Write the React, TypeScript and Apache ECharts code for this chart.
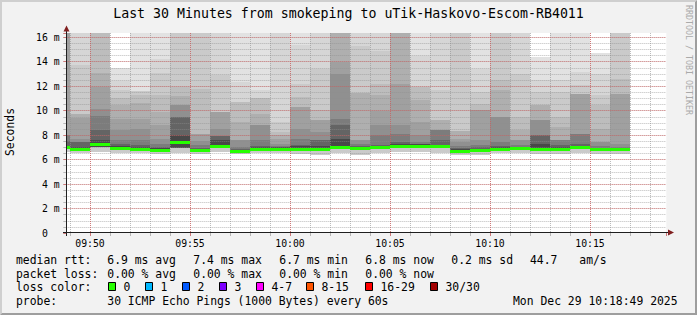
import { useEffect, useRef } from 'react';
import * as echarts from 'echarts';

// ---------------- data ----------------
// one smoke column per minute (column start time)
const categories = ['09:48','09:49','09:50','09:51','09:52','09:53','09:54','09:55','09:56','09:57','09:58','09:59','10:00','10:01','10:02','10:03','10:04','10:05','10:06','10:07','10:08','10:09','10:10','10:11','10:12','10:13','10:14','10:15','10:16'];

// upper edge (ms) of each smoke shade, lightest (level1) to darkest (level10)
const level1 = [16.4,16.4,16.4,13.52,16.4,16.4,16.4,16.4,16.4,16.4,16.4,16.4,16.4,16.4,16.4,16.4,16.4,16.4,16.4,16.4,16.4,16.4,16.4,16.4,14.4,16.4,16.4,14.7,16.4];
const level2 = [16.4,16.4,16.4,12.45,11.6,14.26,16.4,16.4,16.4,12.36,11.67,16.4,15.4,16.4,16.4,16.4,16.4,16.4,14.5,16.4,16.4,13.44,16.4,16.4,12.49,12.49,13.17,13.0,16.4];
const level3 = [16.4,13.7,16.4,11.7,11.6,13.1,16.4,16.4,12.95,10.73,11.0,9.06,12.2,13.44,16.4,15.3,14.9,16.4,11.96,11.67,16.4,11.53,16.4,13.0,11.53,11.53,12.08,11.3,16.4];
const level4 = [16.4,9.7,16.4,11.0,11.3,11.3,11.96,11.8,9.9,10.73,11.0,8.26,11.1,10.03,16.4,11.44,12.2,16.4,11.96,9.22,8.3,10.58,12.49,9.49,10.44,9.49,11.39,10.5,12.62];
const level5 = [16.4,9.7,13.05,10.5,10.6,9.9,11.2,8.1,9.9,9.1,9.76,8.0,10.3,9.22,16.4,11.44,11.3,16.4,10.85,9.22,8.3,10.03,11.67,8.4,10.44,8.67,11.39,8.5,11.39];
const level6 = [16.4,9.4,11.96,9.35,9.35,8.8,10.5,8.1,9.9,7.58,8.8,7.71,10.3,9.22,14.0,7.58,10.0,12.2,9.06,8.4,7.7,10.03,9.49,7.58,9.22,7.58,11.39,7.4,11.39];
const level7 = [8.0,7.7,10.17,8.4,8.5,7.7,10.5,7.5,8.5,7.58,8.8,7.3,8.5,8.26,13.03,7.58,8.8,8.8,7.99,8.4,7.4,7.58,9.49,7.58,9.22,7.58,8.12,7.4,7.31];
const level8 = [8.0,7.4,9.57,7.58,7.6,7.3,9.49,7.2,7.9,7.0,7.58,7.1,7.7,7.58,9.3,7.3,7.99,8.1,7.44,8.4,7.1,7.2,7.44,7.17,7.99,7.58,8.12,7.1,7.03];
const level9 = [7.5,7.4,8.4,7.3,7.17,7.05,9.49,6.95,7.9,6.85,7.1,7.05,7.17,7.58,8.8,7.1,7.2,7.4,7.3,7.58,6.95,7.0,7.1,7.05,7.99,7.17,7.31,6.95,6.95];
const level10 = [7.15,7.0,7.58,7.1,7.0,6.95,7.99,6.9,7.58,6.8,7.05,7.0,7.1,7.1,7.7,7.0,7.1,7.3,7.25,7.2,6.85,6.9,7.0,7.0,7.31,7.05,7.15,6.9,6.9];

// lower edges (ms): outer shades start at minRtt, inner shades at innerLow
const minRtt = [6.6,6.5,6.6,6.55,6.5,6.45,6.5,6.49,6.6,6.43,6.5,6.5,6.45,6.35,6.5,6.4,6.55,6.6,6.6,6.55,6.35,6.4,6.5,6.5,6.45,6.45,6.55,6.45,6.45];
const innerLow = [6.85,6.75,7.05,6.8,6.7,6.65,6.98,6.7,6.95,6.6,6.7,6.75,6.7,6.75,6.85,6.75,6.9,7.0,7.0,6.95,6.6,6.62,6.75,6.8,6.75,6.75,6.9,6.7,6.7];
// median rtt (ms), 0 packet loss everywhere
const medianRtt = [7.0,6.86,7.2,6.92,6.8,6.76,7.36,6.78,7.08,6.7,6.82,6.85,6.8,6.86,6.95,6.87,7.0,7.1,7.1,7.08,6.7,6.72,6.85,6.9,6.86,6.85,7.0,6.8,6.8];

const axisStart = '09:48:49';
const axisEnd = '10:18:49';
const yMax = 16.35;

const titleText = 'Last 30 Minutes from smokeping to uTik-Haskovo-Escom-RB4011';
const rttStats = ['6.9 ms avg', '7.4 ms max', '6.7 ms min', '6.8 ms now', '0.2 ms sd'];
const amsValue = '44.7';
const lossStats = ['0.00 % avg', '0.00 % max', '0.00 % min', '0.00 % now'];
const lossLabels = ['0', '1', '2', '3', '4-7', '8-15', '16-29', '30/30'];
const probeText = '30 ICMP Echo Pings (1000 Bytes) every 60s';
const stampText = 'Mon Dec 29 10:18:49 2025';

// ---------------- styles ----------------
const LEVEL_COLORS = ['#e2e2e2','#d6d6d6','#cacaca','#bdbdbd','#afafaf','#a0a0a0','#909090','#7c7c7c','#646464','#484848'];
const LOSS_COLORS = ['#26ff00','#00b8ff','#0059ff','#7e00ff','#ff00ff','#ff5500','#ff0000','#a10000'];
const MEDIAN_COLOR = '#26ff00';
const GRID = 'rgba(143,143,143,0.6)';
const MGRID = 'rgba(222,79,79,0.6)';
const MONO = '"DejaVu Sans Mono", monospace';

function toMinutes(t: string): number {
  const p = t.split(':').map(Number);
  return p[0] * 60 + p[1] + (p[2] || 0) / 60;
}
const pad = (n: number) => (n < 10 ? '0' : '') + n;

function txt(text: string, x: number, y: number, size: number, opts: any = {}) {
  const align = opts.align || 'left';
  return {
    type: 'text', x, y, z: 20, rotation: opts.rotation || 0,
    style: {
      text, fill: opts.fill || '#000', fontSize: size, fontFamily: MONO,
      align, textAlign: align, verticalAlign: 'middle', textVerticalAlign: 'middle',
    },
  };
}

export default function App() {
  const ref = useRef<HTMLDivElement>(null);

  useEffect(() => {
    const chart = echarts.init(ref.current as HTMLDivElement, null, { renderer: 'svg' });
    const levels = [level1, level2, level3, level4, level5, level6, level7, level8, level9, level10];

    const smoke: number[][] = [];
    categories.forEach((c, i) => {
      const m = toMinutes(c);
      levels.forEach((arr, k) => {
        const lo = k < 3 ? minRtt[i] : innerLow[i];
        if (arr[i] > lo) smoke.push([m, lo, arr[i], k]);
      });
    });
    const medians = categories.map((c, i) => [toMinutes(c), medianRtt[i]]);

    const xMin = toMinutes(axisStart);
    const xMax = toMinutes(axisEnd);

    const clip = (params: any, x0: number, y0: number, x1: number, y1: number) => {
      const cs = params.coordSys;
      return echarts.graphic.clipRectByRect(
        { x: x0, y: y0, width: x1 - x0, height: y1 - y0 },
        { x: cs.x, y: cs.y, width: cs.width, height: cs.height }
      );
    };

    const fmtX = (v: number) => {
      const r = Math.round(v);
      if (Math.abs(v - r) > 1e-6 || r % 5 !== 0) return '';
      return pad(Math.floor(r / 60)) + ':' + pad(r % 60);
    };
    const fmtY = (v: number) => {
      const r = Math.round(v);
      if (Math.abs(v - r) > 1e-6 || r % 2 !== 0) return '';
      return r === 0 ? '0\u00a0\u00a0' : r + ' m';
    };

    const boxX = [108.5, 145.5, 182.5, 219.5, 256.5, 306.5, 365.5, 430.5];
    const graphics: any[] = [
      // 3d frame
      { type: 'polygon', z: 20, shape: { points: [[0,0],[697,0],[695,2],[2,2],[2,313],[0,315]] }, style: { fill: '#cfcfcf' } },
      { type: 'polygon', z: 20, shape: { points: [[697,0],[697,315],[0,315],[2,313],[695,313],[695,2]] }, style: { fill: '#9e9e9e' } },
      // axes + arrows
      { type: 'line', z: 20, shape: { x1: 66.5, y1: 236, x2: 66.5, y2: 31 }, style: { stroke: '#1f1f1f', lineWidth: 1 } },
      { type: 'line', z: 20, shape: { x1: 63, y1: 232.5, x2: 669, y2: 232.5 }, style: { stroke: '#1f1f1f', lineWidth: 1 } },
      { type: 'polygon', z: 21, shape: { points: [[63.5,31.5],[66.5,25.5],[69.5,31.5]] }, style: { fill: '#801f1f' } },
      { type: 'polygon', z: 21, shape: { points: [[668,229.5],[674,232.5],[668,235.5]] }, style: { fill: '#801f1f' } },
      // texts
      txt(titleText, 348.5, 13.3, 13.25, { align: 'center' }),
      txt('Seconds', 9.5, 132, 11.4, { align: 'center', rotation: Math.PI / 2 }),
      txt('RRDTOOL / TOBI OETIKER', 689, 60, 8.3, { align: 'center', rotation: -Math.PI / 2, fill: '#aaaaaa' }),
      txt('median rtt:', 16, 260, 11.4),
      txt('packet loss:', 16, 273.6, 11.4),
      txt('loss color:', 16, 287.2, 11.4),
      txt('probe:', 16, 300.8, 11.4),
      txt(amsValue, 530, 260, 11.4),
      txt('am/s', 579.3, 260, 11.4),
      txt(probeText, 107.3, 300.8, 11.4),
      txt(stampText, 513, 300.8, 11.4),
    ];
    rttStats.forEach((s, i) => graphics.push(txt(s, 107.3 + 86 * i, 260, 11.4)));
    lossStats.forEach((s, i) => graphics.push(txt(s, 107.3 + 86 * i, 273.6, 11.4)));
    lossLabels.forEach((s, i) => {
      graphics.push({
        type: 'rect', z: 20,
        shape: { x: boxX[i], y: 282.5, width: 7, height: 8 },
        style: { fill: LOSS_COLORS[i], stroke: '#000', lineWidth: 1 },
      });
      graphics.push(txt(s, boxX[i] + 15, 287.2, 11.4));
    });

    const xCommon = {
      type: 'value', min: xMin, max: xMax, gridIndex: 0, position: 'bottom', z: 3,
      axisLine: { show: false },
    };
    const yCommon = {
      type: 'value', min: 0, max: yMax, gridIndex: 0, position: 'left', z: 3,
      axisLine: { show: false },
    };

    chart.setOption({
      animation: false,
      backgroundColor: '#f2f2f2',
      textStyle: { fontFamily: MONO },
      grid: {
        left: 66.33, top: 33, width: 600, height: 200,
        show: true, backgroundColor: '#ffffff', borderWidth: 0,
        containLabel: false, outerBoundsMode: 'none',
      },
      xAxis: [
        {
          ...xCommon, splitNumber: 6, minInterval: 5, maxInterval: 5,
          axisTick: { show: true, length: 3, lineStyle: { color: MGRID } },
          axisLabel: { show: true, margin: 10, verticalAlign: 'middle', fontFamily: MONO, fontSize: 9.8, color: '#000', formatter: fmtX, showMinLabel: true, showMaxLabel: true },
          splitLine: { show: true, showMinLine: false, showMaxLine: false, lineStyle: { color: MGRID, width: 1, type: [1, 1] } },
        },
        {
          ...xCommon, splitNumber: 30, minInterval: 1, maxInterval: 1, z: 2.9,
          axisTick: { show: true, length: 3, lineStyle: { color: GRID } },
          axisLabel: { show: false },
          splitLine: { show: true, showMinLine: false, showMaxLine: false, lineStyle: { color: GRID, width: 1, type: [1, 1] } },
        },
      ],
      yAxis: [
        {
          ...yCommon, interval: 2,
          axisTick: { show: true, length: 3, lineStyle: { color: MGRID } },
          axisLabel: { show: true, margin: 6.7, fontFamily: MONO, fontSize: 9.8, color: '#000', formatter: fmtY },
          splitLine: { show: true, showMinLine: false, showMaxLine: false, lineStyle: { color: MGRID, width: 1, type: [1, 1] } },
        },
        {
          ...yCommon, interval: 0.5, z: 2.9,
          axisTick: { show: true, length: 3, lineStyle: { color: GRID } },
          axisLabel: { show: false },
          splitLine: { show: true, showMinLine: false, showMaxLine: false, lineStyle: { color: GRID, width: 1, type: [1, 1] } },
        },
      ],
      series: [
        {
          type: 'custom', name: 'smoke', xAxisIndex: 0, yAxisIndex: 0, z: 2, silent: true,
          data: smoke,
          renderItem: (params: any, api: any) => {
            const m = api.value(0);
            const a = api.coord([m, api.value(2)]);
            const b = api.coord([m + 1, api.value(1)]);
            const r = clip(params, Math.round(a[0]), Math.round(a[1]), Math.round(b[0]), Math.round(b[1]));
            if (!r) return null;
            return { type: 'rect', shape: r, style: { fill: LEVEL_COLORS[api.value(3)] } };
          },
        },
        {
          type: 'custom', name: 'median rtt', xAxisIndex: 0, yAxisIndex: 0, z: 4, silent: true,
          data: medians,
          renderItem: (params: any, api: any) => {
            const m = api.value(0);
            const a = api.coord([m, api.value(1)]);
            const b = api.coord([m + 1, api.value(1)]);
            const y = Math.round(a[1] - 1.5);
            const r = clip(params, Math.round(a[0]), y, Math.round(b[0]), y + 3);
            if (!r) return null;
            return { type: 'rect', shape: r, style: { fill: MEDIAN_COLOR } };
          },
        },
      ],
      graphic: graphics,
    });

    return () => chart.dispose();
  }, []);

  return <div ref={ref} style={{ position: 'fixed', left: 0, top: 0, width: 697, height: 315 }} />;
}
